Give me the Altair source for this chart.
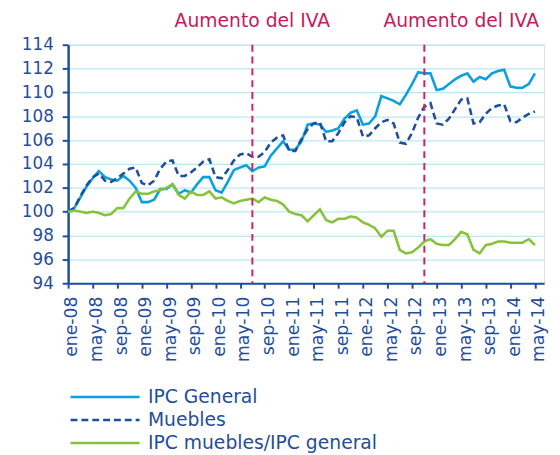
import altair as alt
import pandas as pd

# month index 0 = ene-08 ... 76 = may-14
x_labels = ["ene-08", "may-08", "sep-08", "ene-09", "may-09", "sep-09", "ene-10",
            "may-10", "sep-10", "ene-11", "may-11", "sep-11", "ene-12", "may-12",
            "sep-12", "ene-13", "may-13", "sep-13", "ene-14", "may-14"]

ipc_general = [100.0, 100.3, 101.2, 102.1, 102.8, 103.4, 102.9, 102.7, 102.6, 103.0,
               102.6, 102.0, 100.8, 100.8, 101.0, 101.9, 101.9, 102.3, 101.5, 101.8,
               101.6, 102.3, 102.9, 102.9, 101.8, 101.6, 102.5, 103.5, 103.7, 103.9,
               103.4, 103.7, 103.8, 104.7, 105.3, 105.9, 105.2, 105.2, 105.9, 107.3,
               107.4, 107.3, 106.7, 106.8, 107.0, 107.8, 108.3, 108.5, 107.3, 107.4,
               108.0, 109.7, 109.5, 109.3, 109.0, 109.8, 110.7, 111.7, 111.6, 111.6,
               110.2, 110.3, 110.7, 111.1, 111.4, 111.6, 110.9, 111.3, 111.1, 111.6,
               111.8, 111.9, 110.5, 110.4, 110.4, 110.7, 111.6]

muebles = [100.0, 100.3, 101.3, 102.2, 102.9, 103.2, 102.6, 102.5, 102.8, 103.2,
           103.6, 103.7, 102.4, 102.2, 102.6, 103.6, 104.2, 104.3, 103.0, 103.0,
           103.3, 103.7, 104.2, 104.4, 102.9, 102.8, 103.5, 104.3, 104.8, 104.9,
           104.6, 104.6, 105.0, 105.8, 106.2, 106.4, 105.1, 105.1, 106.1, 106.9,
           107.4, 107.5, 105.9, 105.9, 106.6, 107.5, 108.0, 107.9, 106.3, 106.4,
           107.0, 107.5, 107.7, 107.4, 105.8, 105.7, 106.6, 107.9, 108.8, 109.1,
           107.4, 107.3, 107.8, 108.6, 109.4, 109.5, 107.4, 107.5, 108.2, 108.7,
           108.9, 109.0, 107.6, 107.5, 107.9, 108.2, 108.4]

ratio = [100.0, 100.1, 100.0, 99.9, 100.0, 99.9, 99.7, 99.8, 100.3, 100.3,
         101.1, 101.7, 101.5, 101.5, 101.7, 101.8, 102.0, 102.3, 101.4, 101.1,
         101.7, 101.4, 101.4, 101.7, 101.1, 101.2, 100.9, 100.7, 100.9, 101.0,
         101.1, 100.8, 101.2, 101.0, 100.9, 100.6, 100.0, 99.8, 99.7, 99.2,
         99.7, 100.2, 99.3, 99.1, 99.4, 99.4, 99.6, 99.5, 99.1, 98.9,
         98.6, 97.9, 98.4, 98.4, 96.8, 96.5, 96.6, 97.0, 97.5, 97.7,
         97.3, 97.2, 97.2, 97.7, 98.3, 98.1, 96.8, 96.5, 97.2, 97.3,
         97.5, 97.5, 97.4, 97.4, 97.4, 97.7, 97.2]

series_names = ["IPC General", "Muebles", "IPC muebles/IPC general"]
series_colors = ["#0AA0DE", "#1D4F9C", "#86C33B"]
series_dash = [[1, 0], [7, 4], [1, 0]]

iva_rule_idx = [30, 58]
iva_text_idx = [30, 64]
iva_text = ["Aumento del IVA", "Aumento del IVA"]

rows = []
for name, vals in zip(series_names, [ipc_general, muebles, ratio]):
    for i, v in enumerate(vals):
        rows.append({"t": i, "serie": name, "valor": v})
df = pd.DataFrame(rows)
rules_df = pd.DataFrame({"t": iva_rule_idx})
text_df = pd.DataFrame({"t": iva_text_idx, "txt": iva_text})

AXIS_BLUE = "#1F4E9B"
FONT = "DejaVu Sans"
label_js = "[" + ",".join("'" + s + "'" for s in x_labels) + "]"

x_scale = alt.Scale(domain=[0, 77.5], nice=False, zero=False)

x_axis = alt.Axis(
    values=list(range(0, 77, 4)),
    labelExpr=label_js + "[round(datum.value/4)]",
    labelAngle=270, labelAlign="right", labelBaseline="middle",
    labelFont=FONT, labelFontSize=17.5, labelColor=AXIS_BLUE,
    labelPadding=8, labelOffset=4, labelOverlap=False, labelFlush=False,
    labelBound=False,
    domainColor=AXIS_BLUE, domainWidth=2,
    tickColor=AXIS_BLUE, tickWidth=2, tickSize=5,
    grid=False, title=None,
)
y_axis = alt.Axis(
    values=list(range(94, 115, 2)),
    labelFont=FONT, labelFontSize=17, labelColor=AXIS_BLUE, labelPadding=9,
    labelOverlap=False,
    domainColor=AXIS_BLUE, domainWidth=2.5,
    tickColor=AXIS_BLUE, tickWidth=2, tickSize=6,
    grid=True, gridColor="#BEE5F6", gridWidth=1.3,
    title=None,
)

legend = alt.Legend(title=None, orient="none", legendX=1, legendY=346,
                    symbolType="M-1,0H6", symbolSize=400,
                    symbolStrokeWidth=2.6, labelFont=FONT,
                    labelFontSize=19, labelColor=AXIS_BLUE, labelLimit=0,
                    labelOffset=57, rowPadding=1.3)

lines = alt.Chart(df).mark_line(strokeWidth=2.6).encode(
    x=alt.X("t:Q", scale=x_scale, axis=x_axis),
    y=alt.Y("valor:Q", scale=alt.Scale(domain=[94, 114], nice=False, zero=False), axis=y_axis),
    color=alt.Color("serie:N", scale=alt.Scale(domain=series_names, range=series_colors),
                    legend=legend),
    strokeDash=alt.StrokeDash("serie:N", scale=alt.Scale(domain=series_names, range=series_dash),
                              legend=legend),
    order=alt.Order("t:Q"),
)

rules = alt.Chart(rules_df).mark_rule(color="#D21F5E", strokeWidth=2, strokeDash=[7, 5]).encode(
    x=alt.X("t:Q", scale=x_scale, axis=x_axis),
    y=alt.value(0),
    y2=alt.value(242),
)

texts = alt.Chart(text_df).mark_text(
    font=FONT, fontSize=19, color="#C8195A", align="center", baseline="middle"
).encode(
    x=alt.X("t:Q", scale=x_scale, axis=x_axis),
    y=alt.value(-24),
    text="txt:N",
)

chart = alt.layer(lines, rules, texts).properties(
    width=483, height=242,
    autosize=alt.AutoSizeParams(type="none"),
    padding={"left": 61, "top": 34, "right": 8, "bottom": 170},
).configure_view(stroke=None).configure_axisX(labelOverlap=False).configure(background="white")

chart.save("out.html", embed_options={"renderer": "svg", "actions": False})
